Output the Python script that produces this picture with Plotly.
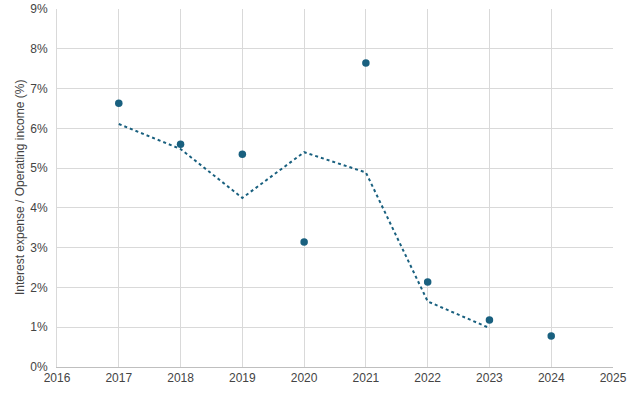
import plotly.graph_objects as go

years = [2017, 2018, 2019, 2020, 2021, 2022, 2023, 2024]
ratio_pct = [6.63, 5.60, 5.35, 3.14, 7.64, 2.14, 1.18, 0.78]
trend_years = [2017, 2018, 2019, 2020, 2021, 2022, 2023]
trend_pct = [6.11, 5.48, 4.25, 5.40, 4.89, 1.65, 0.98]

x_ticks = list(range(2016, 2026))
y_ticks = list(range(0, 10))
y_tick_labels = [f"{v}%" for v in y_ticks]

color = "#19607f"

fig = go.Figure()
fig.add_trace(go.Scatter(
    x=trend_years, y=trend_pct, mode="lines",
    line=dict(color=color, width=2, dash="dot"),
    hoverinfo="skip", showlegend=False))
fig.add_trace(go.Scatter(
    x=years, y=ratio_pct, mode="markers",
    marker=dict(color=color, size=7.5),
    showlegend=False))

fig.add_annotation(
    text="Interest expense / Operating income (%)",
    xref="paper", yref="paper", x=0, y=0.5, xshift=-37,
    xanchor="center", yanchor="middle", textangle=-90, showarrow=False,
    font=dict(size=12, color="#444444"))

fig.update_layout(
    width=634, height=394,
    margin=dict(l=57, r=21, t=9, b=27, autoexpand=False),
    paper_bgcolor="white", plot_bgcolor="white",
    font=dict(family="Liberation Sans, Arial, sans-serif", size=12, color="#444444"),
    xaxis=dict(range=[2016, 2025], tickvals=x_ticks, ticktext=[str(v) for v in x_ticks],
               showgrid=True, gridcolor="#d9d9d9", gridwidth=1,
               showline=True, linecolor="#bfbfbf", linewidth=1, mirror=False,
               zeroline=False, ticks="", automargin=False,
               tickfont=dict(size=12, color="#444444")),
    yaxis=dict(range=[0, 9], tickvals=y_ticks, ticktext=y_tick_labels,
               showgrid=True, gridcolor="#d9d9d9", gridwidth=1,
               showline=True, linecolor="#d9d9d9", linewidth=1,
               zeroline=False, ticks="", ticklabelstandoff=6, automargin=False,
               tickfont=dict(size=12, color="#444444")),
)

fig.write_html("out.html", config={"displayModeBar": False},
               post_script="document.body.style.margin='0';")
